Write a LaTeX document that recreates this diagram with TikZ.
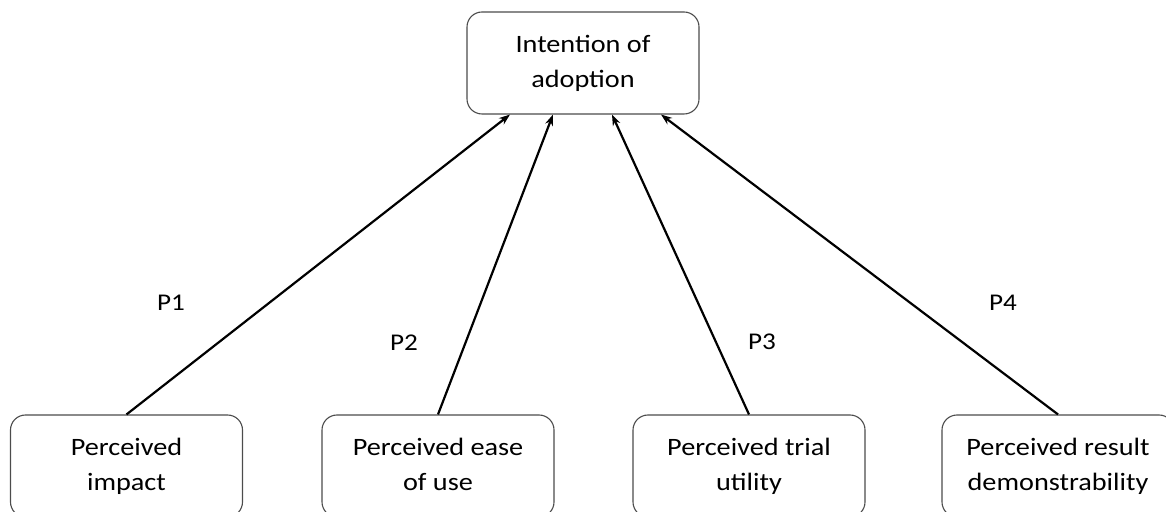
\documentclass[tikz,border=0pt]{standalone}
\usepackage{fontspec}
\setmainfont[FakeStretch=1.13]{Carlito}
\usetikzlibrary{positioning,arrows.meta}

\tikzset{
  factor/.style={draw=black!70, line width=1.1pt, rounded corners=15pt,
    minimum width=232pt, minimum height=102pt, align=center,
    font=\fontsize{25}{35}\selectfont},
  plabel/.style={font=\fontsize{24}{28}\selectfont},
  link/.style={->, line width=2.2pt}
}

\begin{document}
\begin{tikzpicture}[>={Stealth[length=11pt,width=8pt]}, x=1pt, y=1pt]
        \useasboundingbox (0,0) rectangle (1166,511);
        \node[factor] (adopt) at (583,448) {\strut Intention of\\\strut adoption};
        \node[factor] (impact) at (126.5,45) {\strut Perceived\\\strut impact};
        \node[factor] (ease) at (438,45) {\strut Perceived ease\\\strut of use};
        \node[factor] (trial) at (749,45) {\strut Perceived trial\\\strut utility};
        \node[factor] (result) at (1058,45) {\strut Perceived result\\\strut demonstrability};
        \draw[link] (impact.north) -- ([xshift=-73pt]adopt.south);
        \draw[link] (ease.north) -- ([xshift=-30pt]adopt.south);
        \draw[link] (trial.north) -- ([xshift=29pt]adopt.south);
        \draw[link] (result.north) -- ([xshift=78pt]adopt.south);
        \node[plabel] (p1) at (171,208) {P1};
        \node[plabel] (p2) at (404,168) {P2};
        \node[plabel] (p3) at (762,169) {P3};
        \node[plabel] (p4) at (1003,208) {P4};
\end{tikzpicture}
\end{document}
